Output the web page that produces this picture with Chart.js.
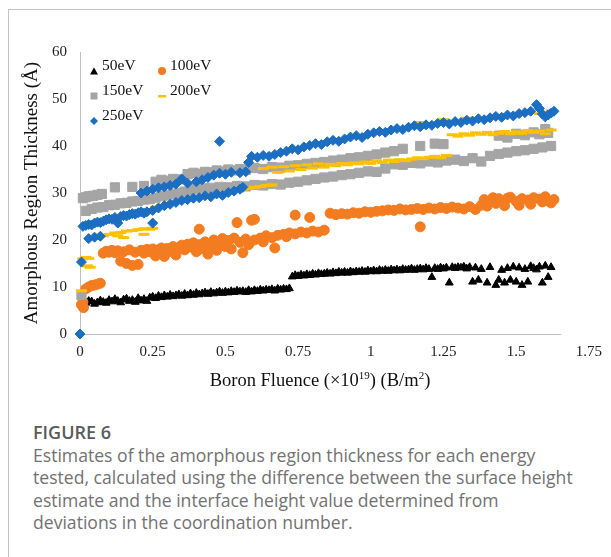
<!DOCTYPE html>
<html><head><meta charset="utf-8">
<script src="https://cdn.jsdelivr.net/npm/chart.js@4/dist/chart.umd.min.js"></script>
<style>
html,body{margin:0;padding:0;background:#fff;}
body{width:611px;height:557px;position:relative;overflow:hidden;font-family:"Liberation Serif",serif;}
#frameTop{position:absolute;left:8px;top:9px;width:603px;height:1px;background:#c4c4c4;}
#frameLeft{position:absolute;left:8px;top:9px;width:1px;height:548px;background:#c4c4c4;}
#chartBox{position:absolute;left:0;top:0;width:611px;height:400px;}
.legText{position:absolute;font-family:"Liberation Serif",serif;font-size:15.5px;line-height:18px;color:#111;white-space:nowrap;}
.legMark{position:absolute;}
#xtitle{position:absolute;left:0;top:369px;width:640px;text-align:center;font-family:"Liberation Serif",serif;font-size:18.5px;line-height:22px;color:#111;}
#xtitle sup{font-size:11px;vertical-align:7px;line-height:0;}
#fig{position:absolute;left:33px;top:420px;font-family:"Open Sans",sans-serif;font-size:18px;font-weight:600;color:#5a5a5a;white-space:nowrap;}
#cap{position:absolute;left:33px;top:444px;font-family:"Open Sans",sans-serif;font-size:17.6px;line-height:22.3px;color:#727272;white-space:nowrap;}
</style>
</head>
<body>
<div id="frameTop"></div><div id="frameLeft"></div>
<div id="chartBox"><canvas id="c" width="611" height="400"></canvas></div>
<div id="legend"></div>
<div id="xtitle">Boron Fluence (×10<sup>19</sup>) (B/m<sup>2</sup>)</div>
<div id="fig">FIGURE 6</div>
<div id="cap">Estimates of the amorphous region thickness for each energy<br>tested, calculated using the difference between the surface height<br>estimate and the interface height value determined from<br>deviations in the coordination number.</div>
<script>
// ---- data (fluence ×10^19 B/m², thickness Å) ----
const seriesNames = ['50eV','100eV','150eV','200eV','250eV'];
const xTickLabels = ['0','0.25','0.5','0.75','1','1.25','1.5','1.75'];
const yTickLabels = ['0','10','20','30','40','50','60'];

const series50eV = [[0.01,6.3],[0.02,6.6],[0.03,7.0],[0.04,6.9],[0.05,6.4],[0.06,6.7],[0.07,7.1],[0.08,6.8],[0.09,6.6],[0.10,7.2],[0.11,6.9],[0.12,7.4],[0.13,7.0],[0.14,6.7],[0.15,7.3],[0.16,7.5],[0.17,7.0],[0.18,7.2],[0.19,6.8],[0.20,7.6],[0.21,7.1],[0.22,7.4],[0.23,7.0],[0.24,7.7],[0.25,7.9],[0.26,7.6],[0.27,8.1],[0.28,7.8],[0.29,8.2],[0.30,7.9],[0.31,8.3],[0.32,8.0],[0.33,8.2],[0.34,8.4],[0.35,8.1],[0.36,8.5],[0.37,8.2],[0.38,8.6],[0.39,8.3],[0.40,8.7],[0.41,8.4],[0.42,8.6],[0.43,8.8],[0.44,8.5],[0.45,8.9],[0.46,8.6],[0.47,8.8],[0.48,9.0],[0.49,8.7],[0.50,9.0],[0.51,8.8],[0.52,9.1],[0.53,8.9],[0.54,9.2],[0.55,9.0],[0.56,9.1],[0.57,8.9],[0.58,9.3],[0.59,9.0],[0.60,9.3],[0.61,9.1],[0.62,9.4],[0.63,9.2],[0.64,9.4],[0.65,9.3],[0.66,9.5],[0.67,9.2],[0.68,9.6],[0.69,9.4],[0.70,9.6],[0.71,9.5],[0.72,9.7],
[0.73,12.2],[0.74,12.5],[0.75,12.3],[0.76,12.6],[0.77,12.4],[0.78,12.7],[0.79,12.5],[0.80,12.8],[0.81,12.6],[0.82,12.9],[0.83,12.7],[0.84,12.8],[0.85,13.0],[0.86,12.8],[0.87,13.1],[0.88,12.9],[0.89,13.2],[0.90,13.0],[0.91,13.2],[0.92,13.0],[0.93,13.3],[0.94,13.1],[0.95,13.3],[0.96,13.2],[0.97,13.4],[0.98,13.2],[0.99,13.5],[1.00,13.3],[1.01,13.5],[1.02,13.3],[1.03,13.6],[1.04,13.4],[1.05,13.6],[1.06,13.4],[1.07,13.7],[1.08,13.5],[1.09,13.7],[1.10,13.5],[1.11,13.8],[1.12,13.6],[1.13,13.7],[1.14,13.9],[1.15,13.6],[1.16,13.8],[1.17,13.9],[1.18,13.7],[1.19,14.0],[1.20,13.8],[1.21,12.1],[1.22,14.0],[1.23,13.8],[1.24,14.1],[1.25,13.9],[1.26,14.1],[1.27,10.9],[1.28,14.2],[1.29,14.0],[1.30,14.2],[1.31,14.1],[1.32,14.3],[1.33,13.9],[1.34,14.2],[1.35,11.1],[1.36,14.1],[1.37,11.5],[1.38,13.8],[1.40,10.9],[1.41,14.2],[1.43,10.4],[1.44,11.5],[1.45,13.6],[1.46,10.9],[1.47,14.0],[1.48,11.5],[1.49,14.3],[1.50,11.1],[1.51,14.1],[1.52,10.4],[1.53,13.8],[1.54,11.1],[1.55,14.4],[1.56,14.0],[1.57,13.7],[1.58,14.3],[1.59,10.9],[1.60,14.5],[1.61,12.1],[1.62,14.2]];

const series100eV = [[0.005,6.2],[0.012,5.6],[0.01,6.8],[0.02,9.6],[0.03,10.0],[0.04,10.3],[0.05,10.4],[0.06,10.6],[0.07,10.8],
[0.08,17.2],[0.09,17.6],[0.10,17.4],[0.11,17.8],[0.12,17.3],[0.13,17.7],[0.14,15.5],[0.15,17.5],[0.16,15.0],[0.17,17.9],[0.18,14.6],[0.19,17.4],[0.20,14.8],[0.21,17.8],[0.22,17.2],[0.23,18.0],[0.24,17.5],[0.25,18.1],[0.26,16.6],[0.27,17.9],[0.28,18.3],[0.29,16.5],[0.30,18.2],[0.31,17.6],[0.32,18.6],[0.33,16.8],[0.34,18.4],[0.35,18.9],[0.36,17.9],[0.37,19.1],[0.38,18.5],[0.39,19.4],[0.40,17.5],[0.41,22.3],[0.41,19.0],[0.42,18.2],[0.43,19.6],[0.44,17.0],[0.45,18.8],[0.46,20.0],[0.47,17.8],[0.48,19.2],[0.49,20.3],[0.50,18.6],[0.51,19.9],[0.52,18.1],[0.53,20.4],[0.54,23.7],[0.55,19.5],[0.56,17.3],[0.57,20.2],[0.58,19.0],[0.59,24.2],[0.60,24.4],[0.60,20.0],[0.62,20.4],[0.63,19.6],[0.64,20.9],[0.66,20.5],[0.67,18.3],[0.68,21.0],[0.70,21.2],[0.71,20.7],[0.72,21.5],[0.74,25.3],[0.74,21.3],[0.76,21.7],[0.78,21.5],[0.79,24.8],[0.80,21.9],[0.82,21.7],[0.84,22.1],
[0.86,25.7],[0.88,25.4],[0.90,25.6],[0.92,25.5],[0.94,25.8],[0.96,25.7],[0.98,26.0],[1.00,25.9],[1.02,26.1],[1.04,26.2],[1.06,26.4],[1.08,26.3],[1.10,26.6],[1.12,26.4],[1.14,26.5],[1.16,26.7],[1.17,22.8],[1.18,26.5],[1.20,26.8],[1.22,26.6],[1.24,26.9],[1.26,26.7],[1.28,27.0],[1.30,26.8],[1.32,26.6],[1.34,27.1],[1.36,26.5],[1.38,27.4],[1.39,28.6],[1.40,27.2],[1.42,29.0],[1.43,27.8],[1.44,28.8],[1.46,27.3],[1.47,28.9],[1.48,29.1],[1.50,28.2],[1.51,27.4],[1.52,28.8],[1.54,28.5],[1.55,27.6],[1.56,29.0],[1.58,28.7],[1.59,28.1],[1.60,29.2],[1.61,28.3],[1.62,27.9],[1.63,28.6]];

const series150eV = [[0.005,8.3],
[0.01,28.9],[0.02,29.1],[0.03,29.3],[0.045,29.4],[0.06,29.6],[0.075,29.8],[0.12,31.2],[0.18,31.3],[0.22,31.5],[0.26,32.4],[0.28,32.8],[0.30,32.6],[0.32,33.0],[0.34,32.9],[0.37,34.0],[0.39,34.3],[0.41,34.1],[0.43,34.5],[0.45,34.4],[0.47,34.8],[0.49,34.6],[0.51,35.0],[0.53,34.8],[0.55,35.1],[0.57,34.9],[0.60,35.3],[0.63,35.1],[0.66,35.5],[0.69,35.4],[0.72,35.8],[0.75,35.9],[0.78,36.2],[0.81,36.4],[0.84,36.6],[0.87,36.9],[0.90,37.1],[0.93,37.4],[0.96,37.6],[0.99,37.9],[1.02,38.2],[1.05,38.6],[1.08,38.9],[1.11,39.4],[1.17,40.0],[1.22,40.5],[1.25,40.4],
[1.44,42.2],[1.47,41.8],[1.50,42.6],[1.53,42.3],[1.56,42.9],[1.58,42.5],[1.60,43.6],[1.61,42.8],
[0.02,26.2],[0.04,26.6],[0.06,26.9],[0.08,27.0],[0.10,27.4],[0.12,27.5],[0.14,27.8],[0.16,27.9],[0.18,28.2],[0.20,28.3],[0.22,28.6],[0.24,28.7],[0.26,29.0],[0.28,29.3],[0.30,29.5],[0.32,29.8],[0.34,30.0],[0.36,30.3],[0.38,30.5],[0.40,30.8],[0.42,31.0],[0.45,31.1],[0.48,31.3],[0.51,31.2],[0.54,31.5],[0.57,31.4],[0.60,31.7],[0.63,31.6],[0.66,31.9],[0.69,31.8],[0.72,32.2],[0.75,32.4],[0.78,32.7],[0.81,33.0],[0.84,33.3],[0.87,33.5],[0.90,33.8],[0.93,34.0],[0.96,34.3],[0.99,34.6],[1.02,34.5],[1.05,35.2],[1.08,36.1],[1.11,36.0],[1.14,36.4],[1.17,36.3],[1.20,36.7],[1.23,36.5],[1.26,36.9],[1.29,37.1],[1.32,36.8],[1.35,37.4],[1.38,36.7],[1.41,37.9],[1.44,38.3],[1.47,38.6],[1.50,38.9],[1.53,39.1],[1.56,39.4],[1.59,39.7],[1.62,40.0]];

const series200eV = [[0.005,9.2],[0.01,16.0],[0.02,16.3],[0.03,16.1],[0.025,14.5],[0.035,14.2],
[0.05,20.3],[0.06,20.6],[0.08,20.9],[0.10,21.2],[0.12,21.5],[0.13,20.9],[0.14,21.6],[0.15,20.5],[0.16,21.9],[0.18,22.0],[0.20,22.2],[0.22,22.4],[0.22,21.2],[0.24,22.3],[0.25,22.5],
[0.26,27.0],[0.28,27.4],[0.30,27.8],[0.32,28.1],[0.34,28.3],[0.36,28.6],[0.38,28.8],[0.40,29.0],[0.42,29.3],[0.44,29.5],[0.46,29.7],[0.48,30.0],[0.50,30.2],[0.52,30.3],[0.54,30.6],[0.56,30.8],[0.58,31.0],[0.60,31.2],[0.62,31.4],[0.64,31.6],[0.66,31.7],
[0.63,35.2],[0.66,35.5],[0.68,34.4],[0.70,35.6],[0.72,34.7],[0.74,35.8],[0.76,35.0],[0.78,36.0],[0.80,35.3],[0.82,36.2],[0.84,35.5],[0.86,36.1],[0.88,35.8],[0.90,36.3],[0.92,36.0],[0.94,36.4],[0.96,36.2],[0.98,36.6],[1.00,36.3],[1.02,36.8],[1.04,36.5],[1.06,37.0],[1.08,36.7],[1.10,37.1],[1.12,36.9],[1.14,37.2],[1.16,37.5],[1.18,37.3],[1.20,37.6],[1.22,37.8],[1.24,37.5],[1.26,38.0],
[1.28,42.4],[1.30,42.1],[1.32,42.6],[1.34,42.3],[1.36,42.8],[1.38,42.5],[1.40,42.9],[1.42,42.4],[1.44,42.7],[1.46,43.1],[1.48,42.6],[1.50,43.0],[1.52,42.7],[1.54,43.3],[1.56,42.9],[1.58,43.2],[1.60,42.6],[1.62,43.4],
[1.17,45.0],[1.25,45.6],[1.33,45.9],[1.42,46.2],[1.50,46.5],[1.58,46.9],[1.62,47.5]];

const series250eV = [[0,0],[0.005,15.3],[0.03,20.3],[0.05,20.6],[0.07,20.8],
[0.01,22.9],[0.02,23.1],[0.03,23.3],[0.04,23.2],[0.05,23.6],[0.06,23.8],[0.07,23.7],[0.08,24.0],[0.09,24.3],[0.10,24.5],[0.11,24.4],[0.12,24.8],[0.13,23.6],[0.14,25.0],[0.15,25.2],[0.16,25.1],[0.17,25.4],[0.18,25.6],[0.19,25.5],[0.20,25.8],[0.21,26.0],[0.22,25.7],[0.25,23.6],
[0.23,26.0],[0.25,26.3],[0.27,26.8],[0.29,27.3],[0.31,27.6],[0.33,28.0],[0.35,28.4],[0.37,28.6],[0.39,28.9],[0.41,29.0],[0.43,29.4],[0.45,29.2],[0.47,29.8],[0.49,29.5],[0.51,30.1],[0.53,30.4],[0.55,30.8],[0.56,31.2],
[0.21,30.0],[0.23,30.4],[0.25,30.8],[0.27,31.1],[0.29,31.3],[0.31,31.6],[0.33,31.9],[0.35,33.0],[0.37,32.1],[0.40,32.4],[0.42,32.8],[0.44,33.3],[0.46,33.8],[0.48,34.2],[0.50,34.0],[0.52,34.4],[0.55,34.3],[0.57,34.5],[0.48,41.0],
[0.58,36.5],[0.59,37.8],[0.61,37.6],[0.63,38.0],[0.65,37.8],[0.67,38.2],[0.69,38.6],[0.71,38.9],[0.73,39.4],[0.75,39.2],[0.77,39.8],[0.79,40.1],[0.81,40.5],[0.83,40.3],[0.85,40.9],[0.87,41.2],[0.89,41.0],[0.91,41.5],[0.93,41.9],[0.95,42.2],[0.97,41.8],[0.99,42.5],[1.01,42.8],[1.03,43.1],[1.05,42.9],[1.07,43.4],[1.09,43.7],[1.11,43.5],[1.13,44.0],[1.15,44.3],[1.17,44.1],[1.19,44.5],[1.21,44.4],[1.23,44.8],[1.25,45.0],[1.27,44.7],[1.29,45.2],[1.31,45.0],[1.33,45.5],[1.35,45.3],[1.37,45.8],[1.39,45.6],[1.41,46.0],[1.43,46.3],[1.45,46.1],[1.47,46.6],[1.49,46.4],[1.51,46.9],[1.53,47.1],[1.55,47.4],[1.57,48.8],[1.58,48.0],[1.59,46.8],[1.60,46.2],[1.61,46.6],[1.62,47.0],[1.63,47.4]];

// ---- styles ----
const seriesData = [series50eV, series100eV, series150eV, series200eV, series250eV];
const seriesColors = ['#000000', '#F47C20', '#A5A5A5', '#FFC000', '#1B6EC2'];
const seriesShapes = ['triangle', 'circle', 'rect', 'line', 'rectRot'];
const seriesRadius = [4.5, 5, 6.5, 5.5, 5];
const xAxisLineEnd = 1.655;

const datasets = seriesData.map((pts, i) => ({
  label: seriesNames[i],
  data: pts.map(p => ({x: p[0], y: p[1]})),
  pointStyle: seriesShapes[i],
  pointRadius: seriesRadius[i],
  pointBackgroundColor: seriesColors[i],
  pointBorderColor: seriesColors[i],
  pointBorderWidth: seriesShapes[i] === 'line' ? 3 : 1,
  showLine: false,
  clip: false,
  order: seriesNames.length - i
}));

const xAxisLine = {
  id: 'xAxisLine',
  beforeDatasetsDraw(chart) {
    const {ctx, chartArea, scales} = chart;
    const y = Math.round(chartArea.bottom) + 0.5;
    ctx.save();
    ctx.strokeStyle = '#bfbfbf';
    ctx.lineWidth = 1;
    ctx.beginPath();
    ctx.moveTo(chartArea.left, y);
    ctx.lineTo(scales.x.getPixelForValue(xAxisLineEnd), y);
    ctx.stroke();
    ctx.restore();
  }
};

new Chart(document.getElementById('c'), {
  type: 'scatter',
  data: {datasets},
  options: {
    responsive: false,
    animation: false,
    layout: {padding: {left: 0, top: 52, right: 22, bottom: 0}},
    plugins: {legend: {display: false}, tooltip: {enabled: false}},
    scales: {
      x: {
        type: 'linear', min: 0, max: 1.75,
        ticks: {stepSize: 0.25, callback: (v, i) => xTickLabels[i], font: {family: 'Liberation Serif', size: 15}, color: '#222', padding: 9, maxRotation: 0, autoSkip: false},
        grid: {display: false, drawTicks: false},
        border: {display: false},
        afterFit: s => { s.height = 66; }
      },
      y: {
        min: 0, max: 60,
        ticks: {stepSize: 10, callback: (v, i) => yTickLabels[i], font: {family: 'Liberation Serif', size: 15}, color: '#222', padding: 13},
        grid: {display: false, drawTicks: false},
        border: {display: true, color: '#bfbfbf', width: 1},
        title: {display: true, text: 'Amorphous Region Thickness (Å)', font: {family: 'Liberation Serif', size: 19}, color: '#111', padding: {top: 21, bottom: 0}},
        afterFit: s => { s.width = 80; }
      }
    }
  },
  plugins: [xAxisLine]
});

// ---- legend (HTML, two columns) ----
const legendCells = [[94, 65], [162, 65], [94, 90], [162, 90], [94, 115]];
const legend = document.getElementById('legend');
function markerSvg(i) {
  const c = seriesColors[i];
  const shapes = [
    `<polygon points="4,0.5 8,7.5 0,7.5" fill="${c}"/>`,
    `<circle cx="4" cy="4" r="4" fill="${c}"/>`,
    `<rect x="0.5" y="0.5" width="7" height="7" fill="${c}"/>`,
    `<rect x="0" y="3" width="8" height="2.5" fill="${c}"/>`,
    `<polygon points="4,0 8,4 4,8 0,4" fill="${c}"/>`
  ];
  return `<svg width="8" height="8" viewBox="0 0 8 8">${shapes[i]}</svg>`;
}
seriesNames.forEach((name, i) => {
  const [cx, cy] = legendCells[i];
  const m = document.createElement('div');
  m.className = 'legMark';
  m.style.left = (cx - 4) + 'px';
  m.style.top = (cy - 4) + 'px';
  m.innerHTML = markerSvg(i);
  legend.appendChild(m);
  const t = document.createElement('div');
  t.className = 'legText';
  t.style.left = (cx + 8) + 'px';
  t.style.top = (cy - 9) + 'px';
  t.textContent = name;
  legend.appendChild(t);
});
</script>
</body></html>
